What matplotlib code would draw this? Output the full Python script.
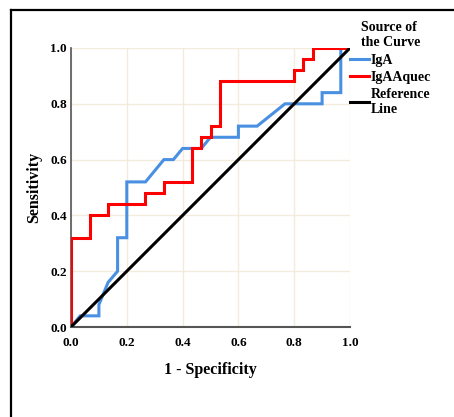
import matplotlib
matplotlib.use("Agg")
import matplotlib.pyplot as plt
from matplotlib.lines import Line2D

# Data (ROC curves)
iga_fpr = [0, 0.033, 0.1, 0.1, 0.133, 0.167, 0.167, 0.2, 0.2, 0.267, 0.333, 0.367, 0.4,
           0.467, 0.5, 0.6, 0.6, 0.667, 0.767, 0.9, 0.9, 0.967, 0.967, 1.0]
iga_tpr = [0, 0.04, 0.04, 0.08, 0.16, 0.2, 0.32, 0.32, 0.52, 0.52, 0.6, 0.6, 0.64,
           0.64, 0.68, 0.68, 0.72, 0.72, 0.8, 0.8, 0.84, 0.84, 1.0, 1.0]
aq_fpr = [0, 0, 0.067, 0.067, 0.133, 0.133, 0.267, 0.267, 0.333, 0.333, 0.433, 0.433,
          0.467, 0.467, 0.5, 0.5, 0.533, 0.533, 0.8, 0.8, 0.833, 0.833, 0.867, 0.867, 1.0]
aq_tpr = [0, 0.32, 0.32, 0.4, 0.4, 0.44, 0.44, 0.48, 0.48, 0.52, 0.52, 0.64,
          0.64, 0.68, 0.68, 0.72, 0.72, 0.88, 0.88, 0.92, 0.92, 0.96, 0.96, 1.0, 1.0]
ref_x = [0, 1]
ref_y = [0, 1]
ticks = [0.0, 0.2, 0.4, 0.6, 0.8, 1.0]
tick_labels = ["0.0", "0.2", "0.4", "0.6", "0.8", "1.0"]

plt.rcParams['font.family'] = ['Liberation Serif', 'DejaVu Serif']
plt.rcParams['font.weight'] = 'bold'

W, H = 454, 417
fig = plt.figure(figsize=(W / 100, H / 100), dpi=100)
ax = fig.add_axes([71 / W, 1 - 327 / H, 279 / W, 279 / H])

ax.plot(iga_fpr, iga_tpr, color='#4a90e2', lw=2.2, label='IgA', solid_joinstyle='miter', zorder=3)
ax.plot(aq_fpr, aq_tpr, color='#ff0000', lw=2.2, label='IgAAquec', solid_joinstyle='miter', zorder=4)
ax.plot(ref_x, ref_y, color='black', lw=2.2, label='Reference\nLine', zorder=5)

ax.set_xlim(0, 1)
ax.set_ylim(0, 1)
ax.set_xticks(ticks)
ax.set_xticklabels(tick_labels)
ax.set_yticks(ticks)
ax.set_yticklabels(tick_labels)
ax.tick_params(length=0, labelsize=9.5)
ax.tick_params(axis='x', pad=7.5)
ax.tick_params(axis='y', pad=3)
for lab in ax.get_xticklabels() + ax.get_yticklabels():
    lab.set_fontweight('bold')
ax.grid(True, color='#f3ecdc', lw=1)
ax.set_axisbelow(True)
for s in ['top', 'right']:
    ax.spines[s].set_visible(False)
ax.spines['left'].set_color('#555555')
ax.spines['bottom'].set_color('#555555')
ax.spines['left'].set_linewidth(1.2)
ax.spines['bottom'].set_linewidth(1.5)

ax.set_xlabel('1 - Specificity', fontsize=11.5, fontweight='bold', labelpad=9)
ax.set_ylabel('Sensitivity', fontsize=11.5, fontweight='bold', labelpad=6)

leg = ax.legend(loc='upper left', bbox_to_anchor=(1.0, 1.095), frameon=False,
                title='Source of\nthe Curve', fontsize=10, title_fontsize=10,
                handlelength=1.4, handletextpad=0.1, labelspacing=0.3,
                borderaxespad=0, borderpad=0)
leg.get_title().set_fontweight('bold')
for t in leg.get_texts():
    t.set_fontweight('bold')

# outer frame (left and top)
fig.add_artist(Line2D([11 / W, 11 / W], [0, 1 - 10 / H], color='black', lw=1.6, transform=fig.transFigure))
fig.add_artist(Line2D([11 / W, 1], [1 - 10 / H, 1 - 10 / H], color='black', lw=1.6, transform=fig.transFigure))

fig.savefig('out.png', dpi=100)
